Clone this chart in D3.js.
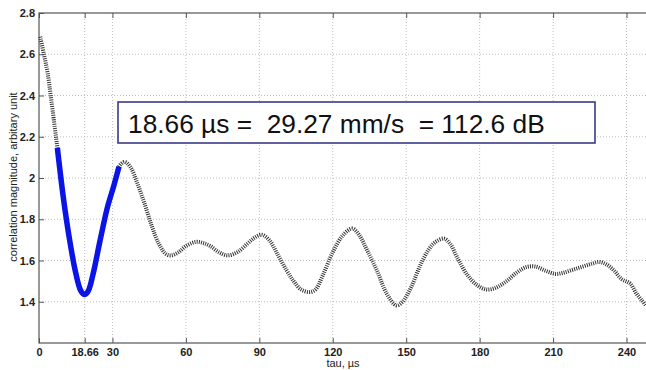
<!DOCTYPE html>
<html>
<head>
<meta charset="utf-8">
<script src="https://cdn.jsdelivr.net/npm/d3@7"></script>
<style>
  body { margin: 0; background: #fff; }
  text { font-family: Arial, "Liberation Sans", sans-serif; }
</style>
</head>
<body>
<svg id="chart" width="646" height="370"></svg>
<script>
// correlation curve
const tau = [0.5, 2, 3.5, 5, 6.5, 7.5, 10, 12.5, 15, 17, 18.5, 20, 22, 25, 28, 30.5, 32.7,
  35, 37.5, 40, 43, 46, 49, 52, 54, 57, 60, 64, 67, 70, 73.5, 77, 81, 85, 88, 91, 94, 97,
  101, 104, 107, 110.5, 113, 116, 120, 124, 128, 131, 134, 138, 142, 146, 148.5, 152, 155.5,
  159, 162, 165.5, 168, 171, 175, 179, 183, 187, 191, 195, 199, 203, 207, 211, 214, 218,
  222, 226, 229, 232, 235, 238, 241.5, 244, 246, 248];
const magnitude = [2.685, 2.60, 2.51, 2.38, 2.24, 2.146, 1.90, 1.70, 1.54, 1.455, 1.435, 1.45,
  1.53, 1.70, 1.86, 1.96, 2.055, 2.078, 2.05, 1.98, 1.88, 1.77, 1.68, 1.63, 1.625, 1.64, 1.67,
  1.69, 1.685, 1.67, 1.64, 1.625, 1.64, 1.68, 1.71, 1.725, 1.70, 1.64, 1.555, 1.50, 1.46, 1.447,
  1.46, 1.53, 1.64, 1.72, 1.755, 1.72, 1.65, 1.553, 1.44, 1.382, 1.40, 1.47, 1.57, 1.65, 1.69,
  1.706, 1.68, 1.61, 1.53, 1.48, 1.459, 1.47, 1.50, 1.54, 1.568, 1.57, 1.55, 1.535, 1.54, 1.555,
  1.57, 1.585, 1.593, 1.58, 1.55, 1.51, 1.488, 1.44, 1.41, 1.38];

// highlighted part of the curve (blue)
const highlightFrom = 7.5;
const highlightTo = 32.7;

const xTicks = [0, 18.66, 30, 60, 90, 120, 150, 180, 210, 240];
const yTicks = [1.4, 1.6, 1.8, 2, 2.2, 2.4, 2.6, 2.8];
const note = "18.66 \u00b5s =  29.27 mm/s  = 112.6 dB";

const data = tau.map((t, i) => ({ t: t, v: magnitude[i] }));

const svg = d3.select("#chart");
const plotLeft = 39, plotTop = 13, plotRight = 651, plotBottom = 343;

const x = d3.scaleLinear().domain([0, 250]).range([plotLeft, plotRight]);
const y = d3.scaleLinear().domain([1.2, 2.8]).range([plotBottom, plotTop]);

// grid
const grid = svg.append("g")
  .attr("stroke", "#b0b0b0")
  .attr("stroke-width", 0.8)
  .attr("stroke-dasharray", "1,2");
grid.selectAll("line.vx")
  .data(xTicks.filter(d => d > 0))
  .join("line")
  .attr("class", "vx")
  .attr("x1", d => x(d)).attr("x2", d => x(d))
  .attr("y1", plotTop).attr("y2", plotBottom);
grid.selectAll("line.hy")
  .data(yTicks.filter(d => d < 2.8))
  .join("line")
  .attr("class", "hy")
  .attr("x1", plotLeft).attr("x2", plotRight)
  .attr("y1", d => y(d)).attr("y2", d => y(d));

// axes, ticks inward like matlab
const axisColor = "#555";
function styleAxis(g) {
  g.select(".domain").remove();
  g.selectAll("line").attr("stroke", axisColor);
  g.selectAll("text")
    .attr("fill", "#222")
    .style("font-size", "11px")
    .style("font-weight", "bold")
    .style("font-family", "Arial, 'Liberation Sans', sans-serif");
}

svg.append("g")
  .attr("transform", `translate(0,${plotBottom})`)
  .call(d3.axisBottom(x).tickValues(xTicks).tickSizeInner(-5).tickSizeOuter(0)
    .tickPadding(5).tickFormat(d => d === 18.66 ? "18.66" : d))
  .call(styleAxis);

svg.append("g")
  .attr("transform", `translate(0,${plotTop})`)
  .call(d3.axisTop(x).tickValues(xTicks).tickSizeInner(-5).tickSizeOuter(0).tickFormat(""))
  .call(styleAxis);

svg.append("g")
  .attr("transform", `translate(${plotLeft},0)`)
  .call(d3.axisLeft(y).tickValues(yTicks).tickSizeInner(-5).tickSizeOuter(0)
    .tickPadding(4).tickFormat(d => d3.format("~g")(d)))
  .call(styleAxis);

svg.append("g")
  .attr("transform", `translate(${plotRight},0)`)
  .call(d3.axisRight(y).tickValues(yTicks).tickSizeInner(-5).tickSizeOuter(0).tickFormat(""))
  .call(styleAxis);

// box
svg.append("rect")
  .attr("x", plotLeft).attr("y", plotTop)
  .attr("width", plotRight - plotLeft).attr("height", plotBottom - plotTop)
  .attr("fill", "none")
  .attr("stroke", axisColor)
  .attr("stroke-width", 1.2);

const line = d3.line()
  .x(d => x(d.t))
  .y(d => y(d.v))
  .curve(d3.curveCatmullRom);

// dotted full curve
svg.append("path")
  .datum(data)
  .attr("d", line)
  .attr("fill", "none")
  .attr("stroke", "#333")
  .attr("stroke-width", 4)
  .attr("stroke-dasharray", "1,1.2");

// blue highlighted part
svg.append("path")
  .datum(data.filter(d => d.t >= highlightFrom && d.t <= highlightTo))
  .attr("d", line)
  .attr("fill", "none")
  .attr("stroke", "#0a14e6")
  .attr("stroke-width", 5.5)
  .attr("stroke-linejoin", "round");

// annotation box
svg.append("rect")
  .attr("x", 118).attr("y", 102)
  .attr("width", 477).attr("height", 41)
  .attr("fill", "#fff")
  .attr("stroke", "#2e2e80")
  .attr("stroke-width", 1.5);

svg.append("text")
  .attr("x", 128).attr("y", 133)
  .style("font-size", "26.3px")
  .attr("fill", "#111")
  .attr("xml:space", "preserve")
  .style("white-space", "pre")
  .text(note);

// axis labels
svg.append("text")
  .attr("x", 343).attr("y", 367)
  .attr("text-anchor", "middle")
  .style("font-size", "11px")
  .attr("fill", "#222")
  .text("tau, \u00b5s");

svg.append("text")
  .attr("transform", "translate(17,177) rotate(-90)")
  .attr("text-anchor", "middle")
  .style("font-size", "11px")
  .attr("fill", "#222")
  .text("correlation magnitude, arbitary unit");
</script>
</body>
</html>
